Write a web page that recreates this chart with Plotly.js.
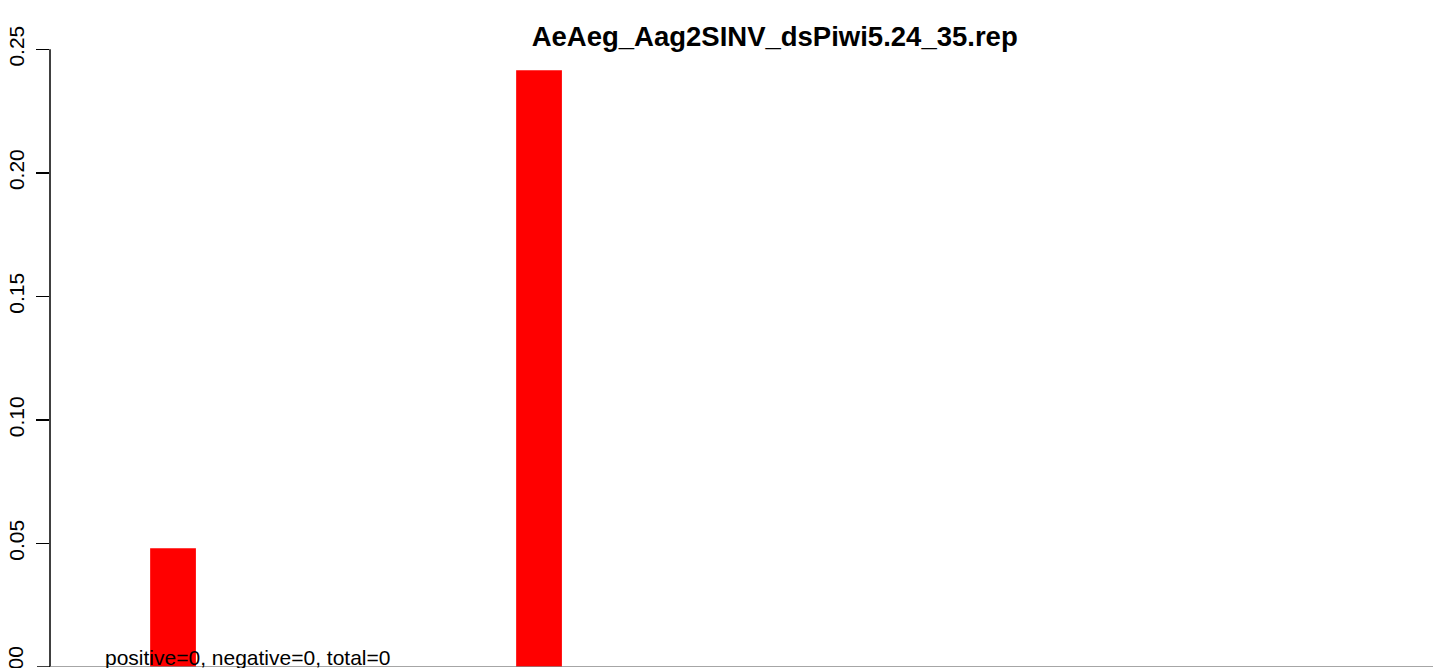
<!DOCTYPE html>
<html>
<head>
<meta charset="utf-8">
<script src="https://cdn.plot.ly/plotly-3.0.1.min.js"></script>
<style>html,body{margin:0;padding:0;background:#fff;}#chart{width:1433px;height:668px;}</style>
</head>
<body>
<div id="chart"></div>
<script>
// Data
const positions = [1, 9];
const values = [0.0481, 0.2415];
const yTicks = [0, 0.05, 0.10, 0.15, 0.20, 0.25];
const yTickLabels = ["0.00", "0.05", "0.10", "0.15", "0.20", "0.25"];
const chartTitle = "AeAeg_Aag2SINV_dsPiwi5.24_35.rep";
const noteText = "positive=0, negative=0, total=0";

const trace = {
  type: "bar",
  x: positions,
  y: values,
  width: 1,
  marker: {color: "#FF0000", line: {width: 0}},
  hoverinfo: "x+y"
};

const FONT = "Liberation Sans, Arial, sans-serif";

const layout = {
  width: 1433,
  height: 668,
  margin: {l: 50, r: 0, t: 0, b: 1, pad: 0},
  paper_bgcolor: "#ffffff",
  plot_bgcolor: "#ffffff",
  showlegend: false,
  font: {family: FONT, color: "#000000", size: 21},
  title: {
    text: "<b>" + chartTitle + "</b>",
    font: {family: FONT, size: 27.5, color: "#000000"},
    xref: "paper", x: 0.524, xanchor: "center",
    yref: "container", y: 0.946, yanchor: "middle"
  },
  xaxis: {
    range: [-1.689, 28.54],
    showgrid: false, zeroline: false, showline: false,
    showticklabels: false, ticks: ""
  },
  yaxis: {
    range: [0, 0.26995],
    tickmode: "array",
    tickvals: yTicks.slice(1),
    ticktext: yTickLabels.slice(1),
    tickangle: -90,
    ticks: "outside",
    ticklen: 13,
    tickwidth: 1.5,
    tickcolor: "#000000",
    ticklabelstandoff: 4,
    showgrid: false, zeroline: false, showline: false,
    tickfont: {family: FONT, size: 21, color: "#000000"}
  },
  shapes: [
    {type: "line", xref: "paper", yref: "y", x0: 0, x1: 0, y0: 0, y1: 0.25,
     line: {color: "#000000", width: 1.5}},
    {type: "line", xref: "paper", yref: "y", x0: -13/1383, x1: 0, y0: 0, y1: 0,
     line: {color: "#000000", width: 1.5}},
    {type: "line", xref: "paper", yref: "y", x0: 0, x1: 1, y0: 0, y1: 0,
     line: {color: "#888888", width: 1.5}, layer: "above"}
  ],
  annotations: [
    {text: noteText, xref: "paper", yref: "paper", x: 53/1383, y: 0.014,
     xanchor: "left", yanchor: "middle", showarrow: false,
     font: {family: FONT, size: 21, color: "#000000"}},
    {text: yTickLabels[0], xref: "paper", yref: "y", x: -35/1383, y: yTicks[0],
     xanchor: "center", yanchor: "middle", textangle: -90, showarrow: false,
     font: {family: FONT, size: 21, color: "#000000"}}
  ]
};

Plotly.newPlot("chart", [trace], layout, {displayModeBar: false, staticPlot: true});
</script>
</body>
</html>
